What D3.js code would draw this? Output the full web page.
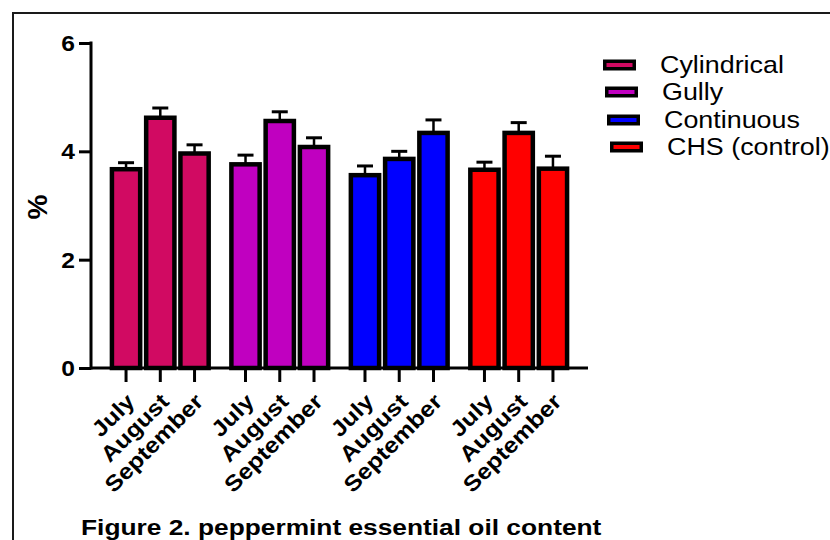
<!DOCTYPE html>
<html>
<head>
<meta charset="utf-8">
<script src="https://cdn.jsdelivr.net/npm/d3@7/dist/d3.min.js"></script>
<style>
  body { margin: 0; background: #fff; }
  text { font-family: "Liberation Sans", Arial, sans-serif; }
</style>
</head>
<body>
<div id="chart"></div>
<script>
// data
var groups = ["Cylindrical", "Gully", "Continuous", "CHS (control)"];
var months = ["July", "August", "September"];
var colors = ["#D10A62", "#C000C0", "#0000FF", "#FF0000"];
var yTicks = [0, 2, 4, 6];

// mean oil content (%) per group, in month order
var cylindrical = [3.67, 4.62, 3.96];
var gully = [3.76, 4.56, 4.08];
var continuous = [3.56, 3.86, 4.34];
var chs = [3.66, 4.34, 3.68];

// upper error (SE) per group
var cylindricalErr = [0.12, 0.18, 0.16];
var gullyErr = [0.17, 0.17, 0.17];
var continuousErr = [0.17, 0.14, 0.24];
var chsErr = [0.14, 0.19, 0.23];

var means = [cylindrical, gully, continuous, chs];
var errs = [cylindricalErr, gullyErr, continuousErr, chsErr];

var w = 830, h = 540;

var svg = d3.select("#chart")
    .append("svg")
    .attr("width", w)
    .attr("height", h);

// figure frame (top and left edge only, the rest is cut off)
svg.append("path")
    .attr("d", "M13,540V13H830")
    .attr("fill", "none")
    .attr("stroke", "#1a1a1a")
    .attr("stroke-width", 2);

var y = d3.scaleLinear().domain([0, 6]).range([368, 43]);

var xGroup = d3.scaleBand()
    .domain(groups)
    .range([91, 588])
    .paddingInner(0.14)
    .paddingOuter(0.15);

var xMonth = d3.scaleBand()
    .domain(months)
    .range([0, xGroup.bandwidth()]);

var strokeW = 4.5;

// flatten into one row per bar
var bars = [];
groups.forEach(function (g, i) {
    months.forEach(function (m, j) {
        bars.push({group: g, month: m, value: means[i][j], err: errs[i][j], color: colors[i]});
    });
});

function cx(d) {
    return xGroup(d.group) + xMonth(d.month) + xMonth.bandwidth() / 2;
}

// error bars first (bars cover the lower half)
var eb = svg.append("g").attr("stroke", "#000");
eb.selectAll("line.stem")
    .data(bars)
    .enter()
    .append("line")
    .attr("x1", cx)
    .attr("x2", cx)
    .attr("y1", function (d) { return y(d.value); })
    .attr("y2", function (d) { return y(d.value + d.err); })
    .attr("stroke-width", 2.5);
eb.selectAll("line.cap")
    .data(bars)
    .enter()
    .append("line")
    .attr("x1", function (d) { return cx(d) - 8; })
    .attr("x2", function (d) { return cx(d) + 8; })
    .attr("y1", function (d) { return y(d.value + d.err); })
    .attr("y2", function (d) { return y(d.value + d.err); })
    .attr("stroke-width", 3);

// bars
var barW = xMonth.bandwidth() - strokeW - 1.5;
svg.append("g")
    .selectAll("rect")
    .data(bars)
    .enter()
    .append("rect")
    .attr("x", function (d) { return cx(d) - barW / 2; })
    .attr("width", barW)
    .attr("y", function (d) { return y(d.value); })
    .attr("height", function (d) { return y(0) - y(d.value); })
    .attr("fill", function (d) { return d.color; })
    .attr("stroke", "#000")
    .attr("stroke-width", strokeW);

// y axis
var yAxis = svg.append("g")
    .attr("transform", "translate(91,0)")
    .call(d3.axisLeft(y).tickValues(yTicks).tickSize(12).tickSizeOuter(0).tickFormat(d3.format("d")));
yAxis.select(".domain").attr("stroke", "#000").attr("stroke-width", 3)
    .attr("d", "M0," + (y(0) + 1.5) + "V" + (y(6) - 1.5));
yAxis.selectAll(".tick line").attr("stroke", "#000").attr("stroke-width", 3);
yAxis.selectAll(".tick text")
    .attr("x", 0)
    .attr("dy", null)
    .attr("dominant-baseline", "central")
    .attr("transform", "translate(-16,0) scale(1.12,1)")
    .style("font-size", "22px")
    .style("font-weight", "bold")
    .style("font-family", "'Liberation Sans', Arial, sans-serif")
    .attr("fill", "#000");

// x axis line and ticks
svg.append("line")
    .attr("x1", 91).attr("x2", 588)
    .attr("y1", y(0)).attr("y2", y(0))
    .attr("stroke", "#000").attr("stroke-width", 3);

svg.append("g")
    .selectAll("line")
    .data(bars)
    .enter()
    .append("line")
    .attr("x1", cx).attr("x2", cx)
    .attr("y1", y(0)).attr("y2", y(0) + 14)
    .attr("stroke", "#000").attr("stroke-width", 3);

// rotated month labels
svg.append("g")
    .selectAll("text")
    .data(bars)
    .enter()
    .append("text")
    .attr("transform", function (d) {
        return "translate(" + (cx(d) + 10) + ",403) rotate(-45) scale(1.13,1)";
    })
    .attr("text-anchor", "end")
    .style("font-size", "22px")
    .style("font-weight", "bold")
    .text(function (d) { return d.month; });

// y label
svg.append("text")
    .attr("transform", "translate(47,207) rotate(-90)")
    .attr("text-anchor", "middle")
    .style("font-size", "28px")
    .style("font-weight", "bold")
    .text("%");

// legend
var legendX = [603, 605, 607, 610];
var legendY = [65, 92, 120, 147];
var legend = svg.append("g");
groups.forEach(function (g, i) {
    legend.append("rect")
        .attr("x", legendX[i] + 1.75)
        .attr("y", legendY[i] - 5.5 + 1.75)
        .attr("width", 33 - 3.5)
        .attr("height", 11 - 3.5)
        .attr("fill", colors[i])
        .attr("stroke", "#000")
        .attr("stroke-width", 3.5);
    legend.append("text")
        .attr("transform", "translate(" + (legendX[i] + 57) + "," + (legendY[i] + 8) + ") scale(1.12,1)")
        .style("font-size", "24px")
        .text(g);
});

// caption
svg.append("text")
    .attr("transform", "translate(81,535) scale(1.17,1)")
    .style("font-size", "22.5px")
    .style("font-weight", "bold")
    .text("Figure 2. peppermint essential oil content");
</script>
</body>
</html>
